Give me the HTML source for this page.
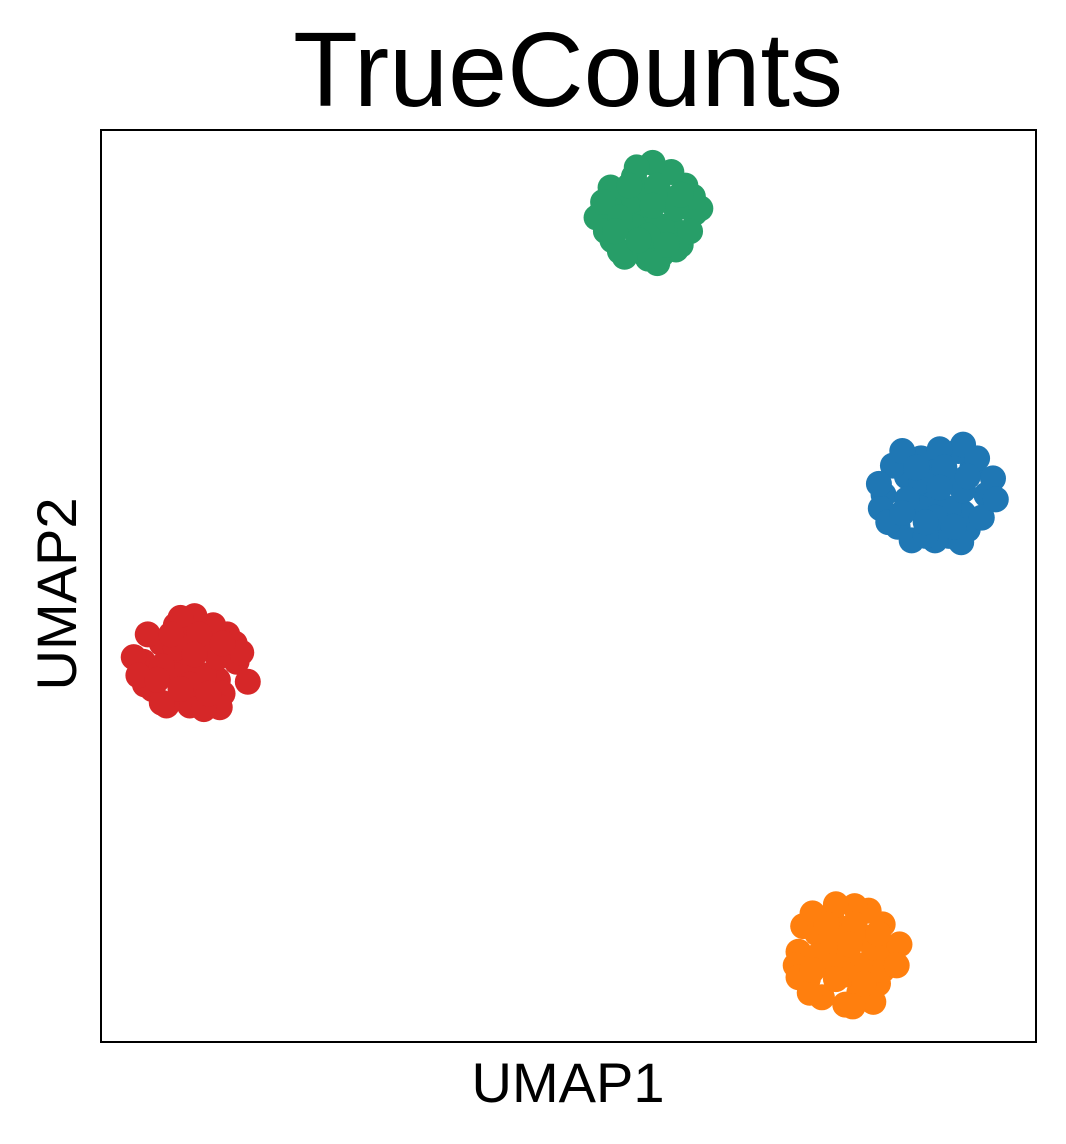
<!DOCTYPE html>
<html><head><meta charset="utf-8">
<style>
html,body{margin:0;padding:0;background:#fff;}
svg{display:block;}
text{font-family:"Liberation Sans",Arial,sans-serif;}
</style></head>
<body>
<svg id="chart" width="1066" height="1144" viewBox="0 0 1066 1144">
  <text x="568" y="106" font-size="106" text-anchor="middle">TrueCounts</text>
  <g id="points"></g>
  <rect x="101" y="130" width="935" height="912" fill="none" stroke="#000" stroke-width="2"/>
  <text x="568" y="1102" font-size="56" text-anchor="middle">UMAP1</text>
  <text transform="translate(76,594) rotate(-90)" font-size="56" text-anchor="middle">UMAP2</text>
</svg>
<script>
// Cluster data (UMAP coordinates, arbitrary units 0-100)
const clusterNames = ["blue","orange","green","red"];
const clusterColors = ["#1f77b4","#ff7f0e","#279e68","#d62728"];
const centerX = [89.2, 79.6, 58.5, 9.5];
const centerY = [60.0, 9.9, 90.9, 41.7];
const blueDX = [0,-3,3,-5.5,5.5,-4,4,-1.5,1.5,-2,2.5,-5.8,6.2,-4.5,3.5,0,-2.5,2.5,-5,5,3,-3.5,0.5,-1,4.5,-6,6.5,2.8,-1.5,1.5,-1.5,1.5,0,0,-3,3,-1,1,-3.5,3.5,-2,2,0.5];
const blueDY = [0,2,-2,0,0,-3.5,3,4,-4.5,-1,1.5,-1.5,1.8,3.2,-3.8,-5,-5,4.8,-3,-2.5,5.5,4.8,5,-4.5,4,1.2,-0.5,-5.2,-1.5,-1.5,1.5,1.5,2.5,-2.5,-0.5,0.5,-3,3,-2,2,3,-3.5,0.8];
const orangeDX = [0,-3,3,-5,5,-4,4,-1.5,1.5,-2,2.5,-5.3,5.8,-4.5,3.5,0,-2.5,2.5,-3.5,4,1,-1,3,-5,5.5,-3.8,0.8,-1.5,1.5,-1.5,1.5,0,0,-3,3,-1,1,-3.5,3.5,-2,2,0.5];
const orangeDY = [0,2,-2,0,0,-3,3,4,-4.5,-1,1.5,-1.5,0.8,2.8,-3.5,-5.8,-5,4.5,4.2,-2,5,5.2,-5.5,-2.8,-1.5,-4.5,-6,-1.5,-1.5,1.5,1.5,2.5,-2.5,-0.5,0.5,-3,3,-2,2,3,-3.5,0.8];
const greenDX = [0,-3,3,-5,5,-3.8,4,-1.5,1.5,-2,2.5,-5.5,5.6,-4,3.5,0,-2.5,2.5,-4.5,4.5,0.5,-1.2,3,-4.8,4.8,-3,1,-1.5,1.5,-1.5,1.5,0,0,-3,3,-1,1,-3.5,3.5,-2,2,0.5];
const greenDY = [0,2,-2,0,0,-3,3,4,-4.5,-1,1.5,-0.5,0.5,2.8,-3.5,-5,-4.8,4.5,-2,-2,5.5,5,-4,1.2,1.8,-4.2,-5.5,-1.5,-1.5,1.5,1.5,2.5,-2.5,-0.5,0.5,-3,3,-2,2,3,-3.5,0.8];
const redDX = [0,-3,3,-5,5,-4,4,-1.5,1.5,-2,2.5,-6,6.2,-4.5,3.5,0,-2.5,2.5,-4.8,4.8,0.5,-1,3.2,-3,1.5,-5.5,5.5,-1.5,1.5,-1.5,1.5,0,0,-3,3,-1,1,-3.5,3.5,-2,2,0.5];
const redDY = [0,2,-2,0,0,-3,3,4,-4.5,-1,1.5,0.5,-2.2,3,-3.5,-4.8,-4.8,4,-2.5,2,5,4.8,-5,-4.5,-5.2,-1.5,1,-1.5,-1.5,1.5,1.5,2.5,-2.5,-0.5,0.5,-3,3,-2,2,3,-3.5,0.8];
const offsetsX = [blueDX, orangeDX, greenDX, redDX];
const offsetsY = [blueDY, orangeDY, greenDY, redDY];

const xDomain = [0, 100], yDomain = [0, 100];
const plot = {x0:101, x1:1036, y0:130, y1:1042};
function xScale(v){ return plot.x0 + (v - xDomain[0])/(xDomain[1]-xDomain[0])*(plot.x1-plot.x0); }
function yScale(v){ return plot.y1 - (v - yDomain[0])/(yDomain[1]-yDomain[0])*(plot.y1-plot.y0); }

const g = document.getElementById('points');
const NS = "http://www.w3.org/2000/svg";
clusterNames.forEach((name, ci) => {
  const grp = document.createElementNS(NS, 'g');
  
  
  const dx = offsetsX[ci], dy = offsetsY[ci];
  for (let i = 0; i < dx.length; i++) {
    const c = document.createElementNS(NS, 'circle');
    
    
    c.setAttribute('cx', xScale(centerX[ci] + dx[i]));
    c.setAttribute('cy', yScale(centerY[ci] + dy[i]));
    c.setAttribute('r', 13);
    c.setAttribute('fill', clusterColors[ci]);
    grp.appendChild(c);
  }
  g.appendChild(grp);
});
</script>
</body></html>
